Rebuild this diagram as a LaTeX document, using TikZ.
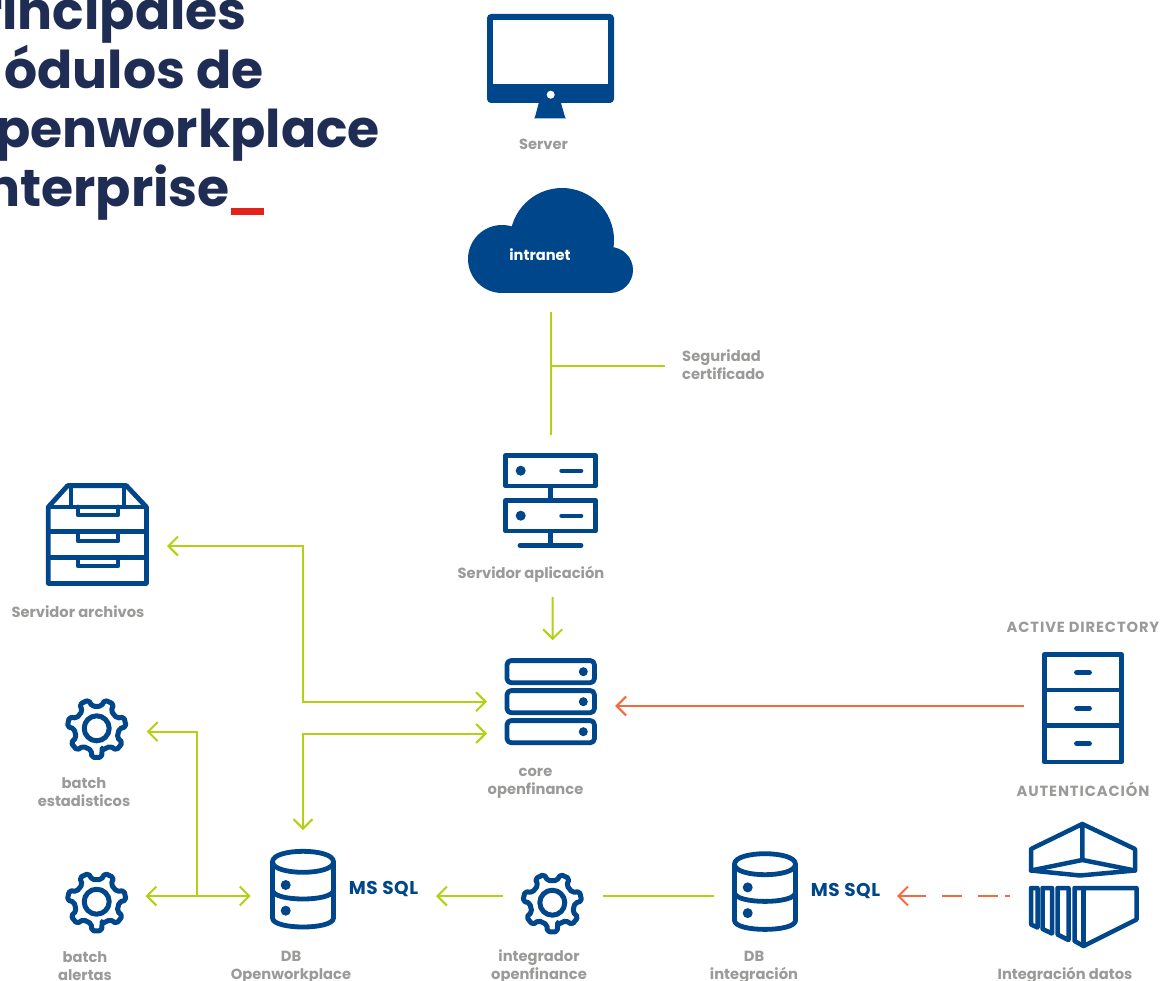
\documentclass[tikz,border=0pt]{standalone}
\usepackage{fontspec}
\setmainfont{Poppins}
\usetikzlibrary{arrows.meta}
\definecolor{iconblue}{HTML}{00468B}
\definecolor{linkgreen}{HTML}{B5CF12}
\definecolor{linkorange}{HTML}{F26A3E}
\definecolor{labgray}{HTML}{9A9A98}
\definecolor{titlenavy}{HTML}{1F2D54}
\definecolor{titlered}{HTML}{E3231B}
\tikzset{
  barb/.tip={Straight Barb[length=9.5pt,width=19pt,line width=2pt]},
  link/.style={draw=linkgreen,line width=2pt},
  orangelink/.style={draw=linkorange,line width=2pt},
  lbl/.style={font=\bfseries\fontsize{14.7}{18}\selectfont,text=labgray,align=center,inner sep=0pt},
  capslbl/.style={font=\bfseries\fontsize{14.7}{18}\selectfont\addfontfeatures{LetterSpace=6},text=labgray,align=center,inner sep=0pt},
  sql/.style={font=\bfseries\fontsize{18.5}{20}\selectfont\addfontfeatures{LetterSpace=3},text=iconblue,inner sep=0pt},
  ttl/.style={font=\bfseries\fontsize{52}{58}\selectfont,text=titlenavy,inner sep=0pt,anchor=base east},
  box/.style={inner sep=0pt,outer sep=0pt},
  ic/.style={draw=iconblue,line width=4.8pt,line join=round,line cap=round},
  gearicon/.pic={
    \draw[ic,line width=5pt,rounded corners=2pt] (90-14:22.5)
      \foreach \k in {0,...,6}{
        -- ({90+\k*51.4286-14}:22.5) -- ({90+\k*51.4286-9.5}:29.5)
        -- ({90+\k*51.4286+9.5}:29.5) -- ({90+\k*51.4286+14}:22.5)
      } -- cycle;
    \draw[ic,line width=5pt] (0,0) circle[radius=12.5pt];
  },
  dbicon/.pic={
    \draw[ic] (-30.5,-27.5) .. controls (-30.5,-41.5) and (30.5,-41.5) .. (30.5,-27.5)
      .. controls (30.5,-13.5) and (-30.5,-13.5) .. (-30.5,-27.5) -- (-30.5,28.7)
      .. controls (-30.5,40.7) and (30.5,40.7) .. (30.5,28.7) -- (30.5,-27.5);
    \draw[ic] (-30.5,0.7) .. controls (-30.5,12.7) and (30.5,12.7) .. (30.5,0.7);
    \fill[iconblue] (-17.3,-4.3) circle[radius=5pt] (-17.3,21.4) circle[radius=5pt];
  }
}
\begin{document}
\begin{tikzpicture}[x=1pt,y=-1pt]
\useasboundingbox (0,0) rectangle (1161,981);
% title
\node[ttl] (t1) at (247,30) {rincipales};
\node[ttl] (t2) at (264,89) {ódulos de};
\node[ttl] (t3) at (380,147.7) {penworkplace};
\node[ttl] (t4) at (230,206.7) {nterprise};
\fill[titlered] (231,208) rectangle (264,215);
% monitor
\node[box,minimum width=127pt,minimum height=104pt] (monitor) at (550.5,66) {};
\fill[iconblue,rounded corners=4pt] (487,14) rectangle (614,103);
\fill[white] (493.3,20) rectangle (608,84);
\fill[white] (550.7,94.7) circle[radius=4pt];
\fill[iconblue] (539,102) -- (560.7,102) -- (565,117) -- (566,118.5) -- (534,118.5) -- (535,117) -- cycle;
\node[lbl] (serverlbl) at (543.5,144) {Server};
% cloud
\node[box,minimum width=165pt,minimum height=105pt] (cloud) at (550.5,240.5) {};
\fill[iconblue] (502,259) circle[radius=34pt] (562,240) circle[radius=52pt] (610,270) circle[radius=23pt]
  (502,240) rectangle (610,293);
\node[lbl,text=white] (intranet) at (540,255) {intranet};
% security
\node[lbl,align=left,anchor=west] (seg) at (682,365) {Seguridad\\certificado};
% app server
\node[box,minimum width=94pt,minimum height=95pt] (app) at (550.5,500.5) {};
\draw[ic] (505.6,455.6) rectangle (595.4,486) (505.6,500.6) rectangle (595.4,531);
\draw[ic,line cap=butt] (550.7,486) -- (550.7,500.6) (550.7,531) -- (550.7,545.3);
\draw[ic] (520,545.3) -- (581,545.3);
\fill[iconblue] (520.7,470.7) circle[radius=5pt] (520.7,515.7) circle[radius=5pt];
\draw[ic,line width=4pt] (561.3,470.7) -- (581.3,470.7) (561.3,515.7) -- (581.3,515.7);
\node[lbl] (applbl) at (531,574.5) {Servidor aplicación};
% core
\node[box,minimum width=92pt,minimum height=87pt] (core) at (550.7,701.7) {};
\draw[ic,rounded corners=4pt] (507,660.6) rectangle (594.4,682.7) (507,690.6) rectangle (594.4,712.7) (507,720.6) rectangle (594.4,742.7);
\fill[iconblue] (583.3,671.7) circle[radius=4.5pt] (583.3,701.7) circle[radius=4.5pt] (583.3,731.7) circle[radius=4.5pt];
\node[lbl] (corelbl) at (535.5,783.5) {core\\openfinance};
% file drawers
\node[box,minimum width=102.7pt,minimum height=102.4pt] (archivos) at (97.35,534.5) {};
\draw[ic] (48.3,507) -- (67.7,485.6) -- (126.3,485.6) -- (146.4,507) -- (146.4,583.4) -- (48.3,583.4) -- cycle;
\draw[ic,line cap=butt] (48.3,507) -- (146.4,507) (48.3,531.7) -- (146.4,531.7) (48.3,557.3) -- (146.4,557.3)
  (71,485.6) -- (71,507) (124,485.6) -- (124,507);
\draw[ic] (78,507) -- (78,515) -- (118,515) -- (118,507) (78,531.7) -- (78,541) -- (118,541) -- (118,531.7) (78,557.3) -- (78,566) -- (118,566) -- (118,557.3);
\node[lbl] (archlbl) at (78,612) {Servidor archivos};
% gears
\node[box,minimum size=63pt] (estad) at (96.7,728.3) {};
\pic at (96.7,728.3) {gearicon};
\node[lbl] (estadlbl) at (84,792.5) {batch\\estadisticos};
\node[box,minimum size=63pt] (alertas) at (96.7,901.7) {};
\pic at (96.7,901.7) {gearicon};
\node[lbl] (alertlbl) at (85,966.5) {batch\\alertas};
\node[box,minimum size=63pt] (integ) at (552.3,902.7) {};
\pic at (552.3,902.7) {gearicon};
\node[lbl] (integlbl) at (539,967) {integrador\\openfinance};
% databases
\node[box,minimum width=66pt,minimum height=80pt] (dbone) at (303,889.3) {};
\pic at (303,889.3) {dbicon};
\node[sql] (sqlone) at (383.5,889) {MS SQL};
\node[lbl] (dbonelbl) at (291,967) {DB\\Openworkplace};
\node[box,minimum width=66.6pt,minimum height=80pt] (dbtwo) at (765,891.7) {};
\pic at (765,891.7) {dbicon};
\node[sql] (sqltwo) at (845.5,891) {MS SQL};
\node[lbl] (dbtwolbl) at (754,967) {DB\\integración};
% active directory
\node[capslbl] (adlbl) at (1083,627) {ACTIVE DIRECTORY};
\node[box,minimum width=81.7pt,minimum height=112pt] (ad) at (1082.85,708.3) {};
\draw[ic] (1044.3,654.6) rectangle (1121.4,762);
\draw[ic,line cap=butt] (1044.3,690) -- (1121.4,690) (1044.3,725.7) -- (1121.4,725.7);
\draw[ic] (1076.5,672.7) -- (1089.5,672.7) (1076.5,708.3) -- (1089.5,708.3) (1076.5,743.7) -- (1089.5,743.7);
\node[capslbl] (autlbl) at (1083,789) {AUTENTICACIÓN};
% integration containers
\node[box,minimum width=109.3pt,minimum height=127pt] (cont) at (1083.65,884.5) {};
\begin{scope}[every path/.append style={ic,line width=4.5pt}]
\draw (1082.3,824) -- (1031,849) -- (1031,870.5) -- (1080,875.5) -- (1135,870.5) -- (1135,849) -- cycle;
\draw (1082.3,824) -- (1082.3,860) (1031,870.5) -- (1082.3,860) -- (1135,870.5);
\draw (1031,888) -- (1037.5,888) -- (1037.5,927.5) -- (1031,924.5) -- cycle;
\draw (1042.5,888) -- (1052,888) -- (1052,933.5) -- (1042.5,929) -- cycle;
\draw (1057.5,888) -- (1068.5,888) -- (1068.5,940) -- (1057.5,934.5) -- cycle;
\draw (1074.5,888) -- (1136.5,888) -- (1136.5,919.5) -- (1083.5,946) -- (1074.5,941) -- cycle;
\draw (1083.5,888) -- (1083.5,946);
\end{scope}
\node[lbl] (contlbl) at (1065,975) {Integración datos};
% connectors
\draw[link,shorten <=19pt,shorten >=18pt] (cloud.south) -- (app.north);
\coordinate (segend) at (665,366);
\coordinate (segjoin) at (550.5,366);
\draw[link] (segjoin) -- (segend);
\draw[link,-{barb},shorten <=49pt,shorten >=18pt] ([xshift=2pt]app.south) -- ([xshift=2pt]core.north);
\draw[link,{barb}-{barb},shorten <=18.3pt,shorten >=17.7pt] (archivos.east |- 0,546) -- (303,546) -- (303,701.7) -- (core.west |- 0,701.7);
\draw[link,{barb}-{barb},shorten <=19.3pt,shorten >=17.7pt] (dbone.north) -- (dbone.north |- 0,733.5) -- (core.west |- 0,733.5);
\draw[orangelink,-{barb},shorten <=0pt,shorten >=18.5pt] (ad.west |- 0,706) ++(-18,0) -- (core.east |- 0,706);
\draw[link,{barb}-,shorten <=18.5pt] (estad.east |- 0,731.6) -- (197.3,731.6) -- (197.3,896);
\draw[link,{barb}-{barb},shorten <=17.3pt,shorten >=19.3pt] (alertas.east |- 0,896) -- (dbone.west |- 0,896);
\draw[link,-{barb},shorten <=17.8pt,shorten >=100pt] (integ.west |- 0,896) -- (dbone.east |- 0,896);
\draw[link,shorten <=19pt,shorten >=17.7pt] (integ.east |- 0,896) -- (dbtwo.west |- 0,896);
\draw[orangelink,-{barb},shorten <=19pt,shorten >=98.7pt,dash pattern=on 5pt off 7pt on 20pt off 16pt on 20pt off 16pt on 40pt off 0pt] (cont.west |- 0,896) -- (dbtwo.east |- 0,896);
\end{tikzpicture}
\end{document}
